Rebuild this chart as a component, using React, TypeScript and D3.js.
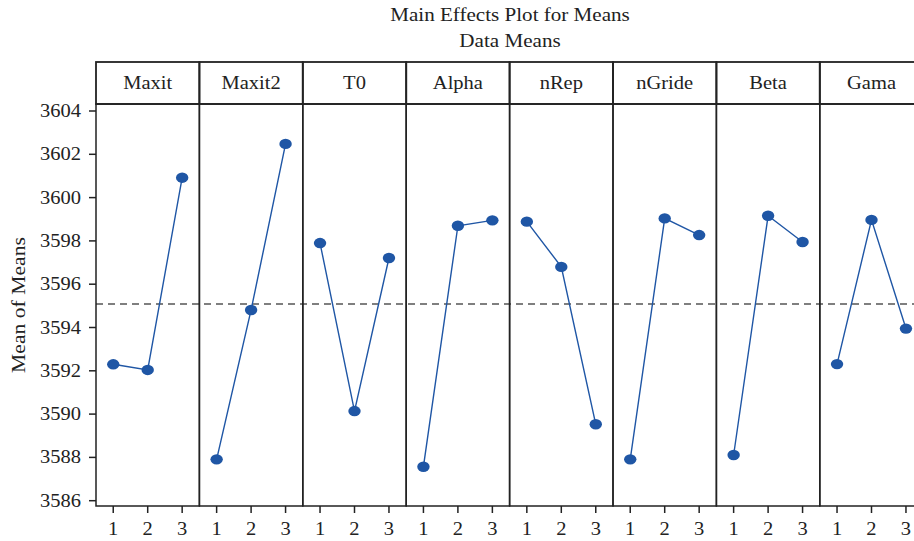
import React from "react";
import * as d3 from "d3";

const factors = ["Maxit", "Maxit2", "T0", "Alpha", "nRep", "nGride", "Beta", "Gama"];
const levels = ["1", "2", "3"];
const maxit = [3592.3, 3592.04, 3600.92];
const maxit2 = [3587.91, 3594.81, 3602.48];
const t0 = [3597.9, 3590.14, 3597.21];
const alpha = [3587.57, 3598.7, 3598.95];
const nRep = [3598.89, 3596.8, 3589.53];
const nGride = [3587.91, 3599.04, 3598.27];
const beta = [3588.11, 3599.16, 3597.95];
const gama = [3592.31, 3598.97, 3593.95];
const seriesValues = [maxit, maxit2, t0, alpha, nRep, nGride, beta, gama];
const yTicks = [3586, 3588, 3590, 3592, 3594, 3596, 3598, 3600, 3602, 3604];
const grandMean = 3595.09;

const W = 914;
const H = 541;
const left = 96;
const panelW = 103.4;
const headerTop = 62;
const plotTop = 104;
const plotBottom = 506;
const FONT = "'Liberation Serif', 'Times New Roman', serif";
const BLUE = "#1f56a5";
const DARK = "#222";
const SX = 1.14;

function T({
  x,
  y,
  size = 18,
  anchor = "middle",
  rotate = 0,
  children,
}: {
  x: number;
  y: number;
  size?: number;
  anchor?: string;
  rotate?: number;
  children: React.ReactNode;
}) {
  return (
    <text
      transform={`translate(${x},${y}) rotate(${rotate}) scale(${SX},1)`}
      textAnchor={anchor as any}
      fontFamily={FONT}
      fontSize={size}
      fill={DARK}
    >
      {children}
    </text>
  );
}

export default function App() {
  const y = d3.scaleLinear().domain([3586, 3604]).range([500.7, 111]);
  const panelX = d3
    .scaleBand<string>()
    .domain(factors)
    .range([left, left + panelW * factors.length])
    .padding(0);
  const right = left + panelW * factors.length;
  const line = d3
    .line<[number, number]>()
    .x((d) => d[0])
    .y((d) => d[1]);

  return (
    <svg width={W} height={H} style={{ position: "absolute", left: 0, top: 0, background: "#fff" }}>
      <T x={510} y={21} size={18.5}>Main Effects Plot for Means</T>
      <T x={510} y={47} size={18.5}>Data Means</T>
      <T x={25} y={305} size={19} rotate={-90}>Mean of Means</T>

      {yTicks.map((t) => (
        <g key={t}>
          <line x1={89} x2={left} y1={y(t)} y2={y(t)} stroke={DARK} strokeWidth={1.5} />
          <T x={81} y={y(t) + 6} anchor="end">{t}</T>
        </g>
      ))}

      <line
        x1={left}
        x2={right}
        y1={y(grandMean)}
        y2={y(grandMean)}
        stroke="#555"
        strokeWidth={1.5}
        strokeDasharray="7,5"
      />

      {factors.map((f, i) => {
        const x0 = panelX(f)!;
        const bw = panelX.bandwidth();
        const xs = d3.scalePoint<string>().domain(levels).range([x0, x0 + bw]).padding(0.5);
        const pts: [number, number][] = seriesValues[i].map((v, j) => [xs(levels[j])!, y(v)]);
        return (
          <g key={f}>
            <rect x={x0} y={headerTop} width={bw} height={plotTop - headerTop} fill="none" stroke={DARK} strokeWidth={1.8} />
            <T x={x0 + bw / 2} y={89}>{f}</T>
            <rect x={x0} y={plotTop} width={bw} height={plotBottom - plotTop} fill="none" stroke={DARK} strokeWidth={1.5} />
            <path d={line(pts) || ""} fill="none" stroke={BLUE} strokeWidth={1.4} />
            {pts.map((p, j) => (
              <ellipse key={j} cx={p[0]} cy={p[1]} rx={6.2} ry={5.2} fill={BLUE} />
            ))}
            {levels.map((l) => (
              <g key={l}>
                <line x1={xs(l)!} x2={xs(l)!} y1={plotBottom} y2={513} stroke={DARK} strokeWidth={1.5} />
                <T x={xs(l)!} y={535}>{l}</T>
              </g>
            ))}
          </g>
        );
      })}
    </svg>
  );
}
